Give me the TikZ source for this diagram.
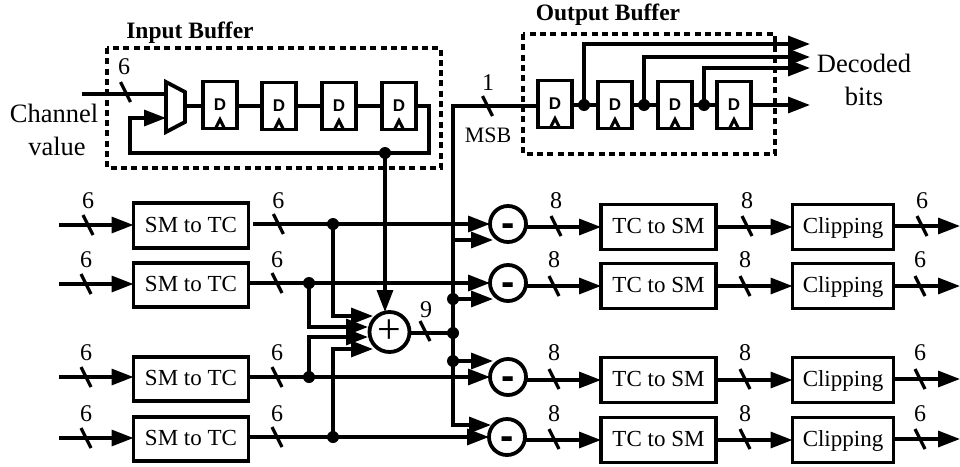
\documentclass[tikz,border=0pt]{standalone}
\usepackage{fontspec}
\setmainfont{Liberation Serif}
\newfontfamily\dfont{Liberation Sans}
\usetikzlibrary{arrows.meta,calc}
\tikzset{
  wire/.style={line width=3.3pt},
  arrowwire/.style={line width=3.3pt,-{Triangle[length=22pt,width=16pt]},shorten >=0pt},
  busmark/.style={line width=3.3pt},
  blockbox/.style={draw,line width=3.8pt,fill=white,inner sep=0pt,outer sep=0pt,text height=16pt,text depth=3pt,
    minimum width=115pt,minimum height=45pt,font=\fontsize{23}{27}\selectfont},
  flop/.style={draw,line width=3.8pt,fill=white,inner sep=0pt,outer sep=0pt,
    minimum width=34pt,minimum height=47pt,font=\dfont\bfseries\fontsize{17}{19}\selectfont},
  clock/.style={line width=3pt},
  dashbox/.style={line width=3.3pt,dash pattern=on 6pt off 4.3pt},
  junction/.style={circle,fill=black,inner sep=0pt,minimum size=12pt,outer sep=0pt},
  opcircle/.style={draw,circle,line width=3.8pt,fill=white,inner sep=0pt,outer sep=0pt,minimum size=36pt},
  minussign/.style={inner sep=0pt,font=\dfont\bfseries\fontsize{40}{40}\selectfont},
  numlabel/.style={inner sep=0pt,font=\fontsize{24}{27}\selectfont},
  biglabel/.style={inner sep=0pt,font=\fontsize{26.5}{30}\selectfont},
  titlelabel/.style={inner sep=0pt,font=\bfseries\fontsize{23.5}{27}\selectfont},
}
\newcommand{\busslash}[2]{\draw[busmark] ($(#1,#2)+(-5,-10)$) -- ($(#1,#2)+(5,10)$);}
\newcommand{\dflop}[3]{%
  \node[flop] (#1) at (#2,#3) {D};
  \draw[clock,line join=miter] ($(#1.south)+(-4.5,0)$) -- ($(#1.south)+(0,-9)$) -- ($(#1.south)+(4.5,0)$);
}
\begin{document}
\begin{tikzpicture}[x=1pt,y=-1pt]
\useasboundingbox (0,0) rectangle (960,466);
% titles and dashed boxes
\draw[dashbox] (107,48) rectangle (441,168);
\draw[dashbox] (523,34) rectangle (775,154);
\node[titlelabel] (tin) at (190,33) {Input Buffer};
\node[titlelabel] (tout) at (608,15) {Output Buffer};
\node[biglabel] (chan) at (54,113) {Channel};
\node[biglabel] (val) at (57,146) {value};
\node[biglabel] (dec) at (864,63) {Decoded};
\node[biglabel] (bts) at (864,96) {bits};
\node[numlabel] (n6a) at (124,67) {6};
\node[numlabel] (n1) at (488,83) {1};
\node[numlabel,font=\fontsize{22}{26}\selectfont] (msb) at (488,135) {MSB};
\node[numlabel] (n9) at (426,310) {9};
% input buffer
\dflop{a1}{220}{105}
\dflop{a2}{279}{106}
\dflop{a3}{339}{106}
\dflop{a4}{399}{106}
\coordinate (mt) at (166,82);
\coordinate (mr1) at (185,92);
\coordinate (mr2) at (185,122);
\coordinate (mb) at (166,132);
\draw[line width=3.8pt,line join=miter,fill=white] (mt) -- (mr1) -- (mr2) -- (mb) -- cycle;
\coordinate (chin) at (82,94);
\coordinate (muxa) at (166,94);
\coordinate (muxb) at (166,118);
\coordinate (muxo) at (185,106);
\draw[wire] (chin) -- (muxa);
\busslash{125.5}{92}
\draw[wire] (muxo) -- (a1.west |- muxo);
\draw[wire] (a1.east |- a2.west) -- (a2.west);
\draw[wire] (a2.east) -- (a3.west);
\draw[wire] (a3.east) -- (a4.west);
\coordinate (fbr) at (429,106);
\coordinate (fbrb) at (429,153);
\coordinate (fbl) at (130,153);
\coordinate (fblt) at (130,118);
\node[junction] (fbd) at (385,153) {};
\draw[wire,line join=miter] (a4.east) -- (fbr) -- (fbrb) -- (fbl) -- (fblt) -- (135,118);
\draw[arrowwire] (fblt) -- (muxb);
% adder and lower rows
\node[opcircle,minimum size=40pt] (add) at (389.5,332) {\fontsize{42}{42}\selectfont +};
\foreach \r/\y/\yb/\yy/\yo/\ys/\yn/\dx/\startx/\clipx/\mx in
  {1/224/225.5/225/226/227/201/2/253/895/508,
   2/283/285/284/286/286/260/0/250/892/508,
   3/377/379/377/379/380/353/0/250/892/508,
   4/437/439/438/439/440/414/0/250/892/507}{
  \node[blockbox,minimum height=44.5pt] (sm\r) at (191,\yb) {SM to TC};
  \node[opcircle] (m\r) at (\mx,\y) {};
  \node[minussign] (ms\r) at ($(m\r)+(0,6)$) {-};
  \node[blockbox,minimum height=45pt] (tc\r) at (658.5,\ys) {TC to SM};
  \node[blockbox,minimum width=101pt,minimum height=45pt] (cl\r) at (843,\ys) {Clipping};
  \coordinate (in\r) at (59,\yy);
  \coordinate (lo\r) at (\startx,\y);
  \coordinate (co\r) at (\clipx,\yo);
  \coordinate (ou\r) at (960,\yo);
  \draw[arrowwire] (in\r) -- (sm\r.west |- in\r);
  \draw[arrowwire] (lo\r) -- (m\r.west);
  \draw[arrowwire] (m\r.east |- tc\r.west) -- (tc\r.west);
  \draw[arrowwire] (tc\r.east) -- (cl\r.west);
  \draw[arrowwire] (co\r) -- (ou\r);
  \pgfmathsetmacro{\xa}{86+\dx}
  \pgfmathsetmacro{\xb}{277+\dx*.7}
  \pgfmathsetmacro{\xc}{554+\dx}
  \pgfmathsetmacro{\xd}{745+\dx}
  \pgfmathsetmacro{\xe}{920+\dx}
  \busslash{\xa}{\yy}
  \busslash{\xb}{\y}
  \busslash{\xc}{\yo}
  \busslash{\xd}{\yo}
  \busslash{\xe}{\yo}
  \node[numlabel] (la\r) at (\xa,\yn) {6};
  \node[numlabel] (lb\r) at (\xb,\yn) {6};
  \node[numlabel] (lc\r) at (\xc,\yn) {8};
  \node[numlabel] (ld\r) at (\xd,\yn) {8};
  \node[numlabel] (le\r) at (\xe,\yn) {6};
}
% adder inputs
\node[junction] (j1) at (333,224) {};
\node[junction] (j2) at (309,283) {};
\node[junction] (j3) at (309,377) {};
\node[junction] (j4) at (333,437) {};
\coordinate (t1) at (373,316);
\coordinate (t2) at (368,327);
\coordinate (t3) at (368,337);
\coordinate (t4) at (373,349);
\draw[arrowwire] (j2.center) |- (t2);
\draw[arrowwire] (j3.center) |- (t3);
\draw[arrowwire] (j1.center) |- (t1);
\draw[arrowwire] (j4.center) |- (t4);
\draw[arrowwire] (fbd.center) -- (fbd |- add.north);
% sign bus
\coordinate (bt) at (453,106);
\coordinate (bb) at (453,425);
\coordinate (tb) at (491,425);
\node[junction] (s2) at (453,299) {};
\node[junction] (s0) at (453,333) {};
\node[junction] (s3) at (453,361) {};
\coordinate (s1) at (453,240);
\coordinate (ta1) at (493,240);
\coordinate (ta2) at (493,299);
\coordinate (ta3) at (493,361);
\draw[wire] (add.east |- s0) -- (s0.center);
\busslash{425}{331}
\draw[arrowwire] (s1) -- (ta1);
\draw[arrowwire] (s2.center) -- (ta2);
\draw[arrowwire] (s3.center) -- (ta3);
\draw[arrowwire] (bt) -- (bb) -- (tb);
% output buffer
\dflop{b1}{555}{104}
\dflop{b2}{615}{105}
\dflop{b3}{675}{105}
\dflop{b4}{734}{105}
\coordinate (ba) at (453,106);
\draw[wire,line cap=rect] (ba) -- (b1.west |- ba);
\busslash{487.5}{106}
\node[junction] (o1) at (584,105) {};
\node[junction] (o2) at (644,105) {};
\node[junction] (o3) at (704,105) {};
\coordinate (e1) at (810,44);
\coordinate (e2) at (810,57);
\coordinate (e3) at (810,68);
\coordinate (e4) at (810,105);
\draw[wire] (b1.east |- o1) -- (b2.west);
\draw[wire] (b2.east) -- (b3.west);
\draw[wire] (b3.east) -- (b4.west);
\draw[arrowwire] (o1.center) |- (e1);
\draw[arrowwire] (o2.center) |- (e2);
\draw[arrowwire] (o3.center) |- (e3);
\draw[arrowwire] (b4.east) -- (e4);
\end{tikzpicture}
\end{document}
